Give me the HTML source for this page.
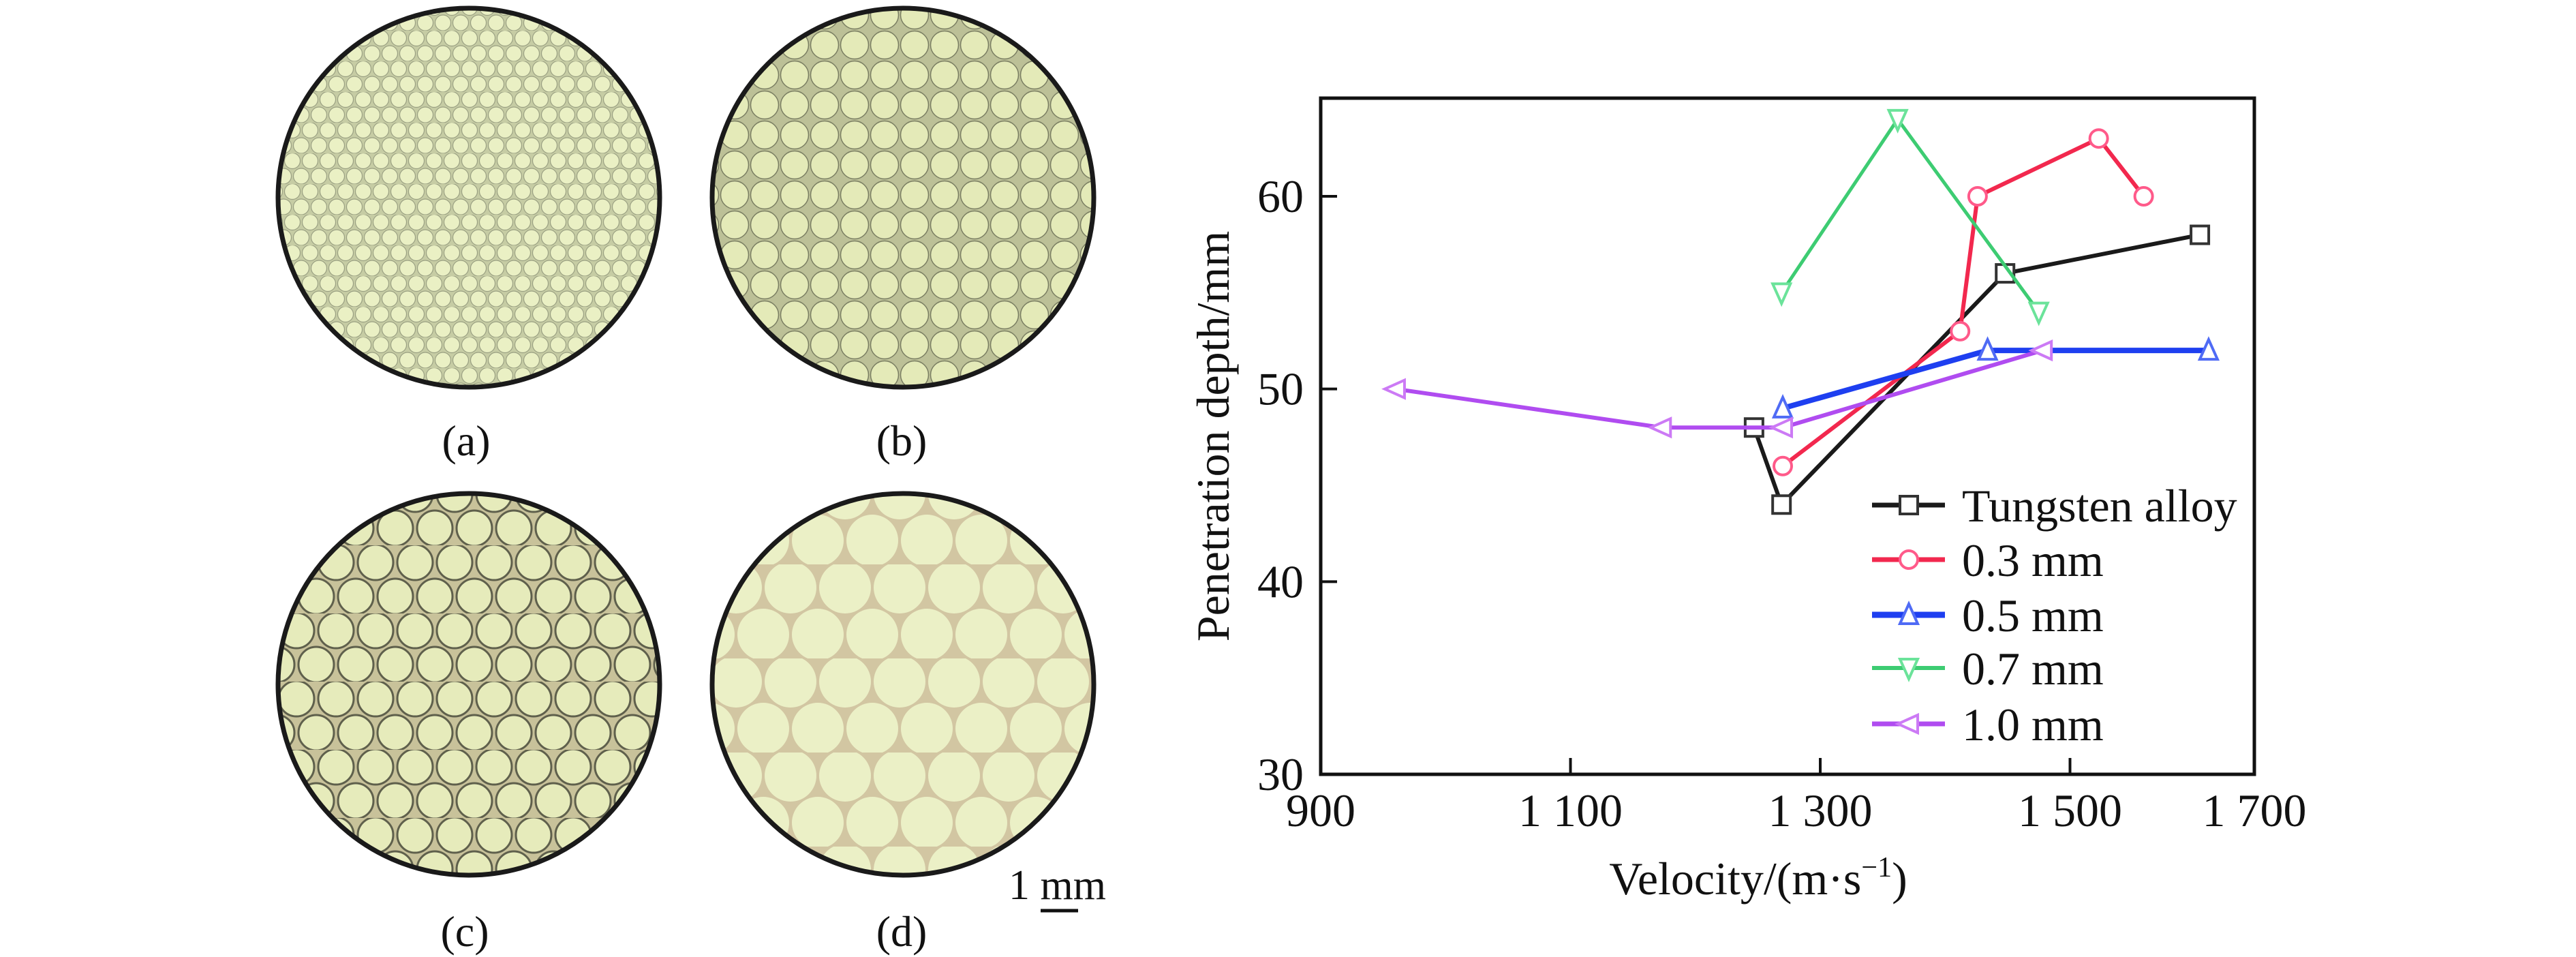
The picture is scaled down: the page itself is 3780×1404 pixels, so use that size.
<!DOCTYPE html>
<html><head><meta charset="utf-8"><style>
html,body{margin:0;padding:0;background:#fff;}
svg{display:block;}
text{font-family:"Liberation Serif",serif;fill:#111;}
</style></head><body>
<svg id="fig" width="3780" height="1404" viewBox="0 0 3780 1404" xmlns="http://www.w3.org/2000/svg">
<defs>
  <pattern id="pa" width="26" height="45" patternUnits="userSpaceOnUse">
    <rect width="26" height="45" fill="#c6cca4"/>
    <circle cx="13" cy="11" r="11.5" fill="#eaf0c4" stroke="#9aa082" stroke-width="1.2"/>
    <circle cx="0" cy="33.5" r="11.5" fill="#eaf0c4" stroke="#9aa082" stroke-width="1.2"/>
    <circle cx="26" cy="33.5" r="11.5" fill="#eaf0c4" stroke="#9aa082" stroke-width="1.2"/>
  </pattern>
  <pattern id="pb" width="44" height="44" patternUnits="userSpaceOnUse">
    <rect width="44" height="44" fill="#bcc097"/>
    <circle cx="22" cy="22" r="20.5" fill="#e4eab8" stroke="#7a7e62" stroke-width="1.5"/>
  </pattern>
  <pattern id="pc" width="58" height="100" patternUnits="userSpaceOnUse">
    <rect width="58" height="100" fill="#c8c29a"/>
    <circle cx="29" cy="25" r="26" fill="#e6ebbb" stroke="#5f604c" stroke-width="3"/>
    <circle cx="0" cy="75" r="26" fill="#e6ebbb" stroke="#5f604c" stroke-width="3"/>
    <circle cx="58" cy="75" r="26" fill="#e6ebbb" stroke="#5f604c" stroke-width="3"/>
  </pattern>
  <pattern id="pd" width="80" height="138" patternUnits="userSpaceOnUse">
    <rect width="80" height="138" fill="#d2c6a2"/>
    <circle cx="40" cy="34" r="38" fill="#ebf0c6"/>
    <circle cx="0" cy="103" r="38" fill="#ebf0c6"/>
    <circle cx="80" cy="103" r="38" fill="#ebf0c6"/>
  </pattern>
</defs>
<g>
  <ellipse cx="688" cy="290" rx="280" ry="278" fill="url(#pa)" stroke="#1a1a1a" stroke-width="7"/>
  <ellipse cx="1325" cy="290" rx="280" ry="278" fill="url(#pb)" stroke="#1a1a1a" stroke-width="7"/>
  <ellipse cx="688" cy="1004" rx="280" ry="280" fill="url(#pc)" stroke="#1a1a1a" stroke-width="7"/>
  <ellipse cx="1325" cy="1004" rx="280" ry="280" fill="url(#pd)" stroke="#1a1a1a" stroke-width="7"/>
  <text x="684" y="668" font-size="64" text-anchor="middle">(a)</text>
  <text x="1323" y="668" font-size="64" text-anchor="middle">(b)</text>
  <text x="682" y="1388" font-size="64" text-anchor="middle">(c)</text>
  <text x="1323" y="1388" font-size="64" text-anchor="middle">(d)</text>
  <text x="1480" y="1319" font-size="62">1 mm</text>
  <line x1="1527" y1="1336" x2="1582" y2="1336" stroke="#111" stroke-width="5"/>
</g>
<g id="chart"></g>
</svg>
<script>
const xTicks = [900, 1100, 1300, 1500, 1700];
const xTickLabels = ["900", "1 100", "1 300", "1 500", "1 700"];
const yTicks = [30, 40, 50, 60];
const yTickLabels = ["30", "40", "50", "60"];
const seriesNames = ["Tungsten alloy", "0.3 mm", "0.5 mm", "0.7 mm", "1.0 mm"];
const tungstenX = [1247, 1269, 1448, 1604];
const tungstenY = [48, 44, 56, 58];
const mm03X = [1270, 1412, 1426, 1523, 1559];
const mm03Y = [46, 53, 60, 63, 60];
const mm05X = [1270, 1434, 1611];
const mm05Y = [49, 52, 52];
const mm07X = [1269, 1362, 1475];
const mm07Y = [55, 64, 54];
const mm10X = [960, 1173, 1270, 1478];
const mm10Y = [50, 48, 48, 52];

const NS = "http://www.w3.org/2000/svg";
const L = 1938, R = 3308, T = 144, B = 1136;
const X0 = 900, XPX = 1.8325;
const Y0 = 30;
function xs(v){ return Math.min(R, L + (v - X0) * XPX); }
function ys(v){ return B - (v - Y0) * (B - 288) / 30; }
const chart = document.getElementById('chart');
function mk(tag, attrs, parent){
  const e = document.createElementNS(NS, tag);
  for (const k in attrs) e.setAttribute(k, attrs[k]);
  (parent || chart).appendChild(e);
  return e;
}
const frame = mk('rect', {x:L, y:T, width:R-L, height:B-T, fill:'none', stroke:'#111', 'stroke-width':5});



xTicks.forEach((v, i) => {
  const x = xs(v);
  if (x > L + 5 && x < R - 5) {
    const t = mk('line', {x1:x, x2:x, y1:B, y2:B-24, stroke:'#111', 'stroke-width':4});
    
    
  }
  const lab = mk('text', {x:x, y:1212, 'font-size':68, 'text-anchor':'middle'});
  lab.textContent = xTickLabels[i];
  
  
});
yTicks.forEach((v, i) => {
  const y = ys(v);
  if (y > T + 5 && y < B - 5) {
    const t = mk('line', {x1:L, x2:L+24, y1:y, y2:y, stroke:'#111', 'stroke-width':4});
    
    
  }
  const lab = mk('text', {x:1913, y:y + 23, 'font-size':68, 'text-anchor':'end'});
  lab.textContent = yTickLabels[i];
  
  
});
const yt = mk('text', {x:0, y:0, 'font-size':68, 'text-anchor':'middle', transform:'translate(1803 640) rotate(-90)'});
yt.textContent = 'Penetration depth/mm';


const xt = mk('text', {x:2580, y:1312, 'font-size':68, 'text-anchor':'middle'});
xt.innerHTML = 'Velocity/(m·s<tspan dy="-26" font-size="42">−1</tspan><tspan dy="26">)</tspan>';



const colors = ['#1a1a1a', '#f2284e', '#1e3ff0', '#3dcc72', '#b04cf0'];
const mcolors = ['#333333', '#ff5a8a', '#4f6bf5', '#6be39a', '#cc7af5'];
const widths = [6, 6, 8, 5, 6];
const shapes = ['square', 'circle', 'up', 'down', 'left'];
function marker(shape, cx, cy, col, parent){
  const s = 13; let e;
  if (shape === 'square') e = mk('rect', {x:cx-s, y:cy-s, width:2*s, height:2*s}, parent);
  else if (shape === 'circle') e = mk('circle', {cx:cx, cy:cy, r:s}, parent);
  else {
    let p;
    if (shape === 'up') p = [[cx,cy-s-3],[cx-s,cy+s],[cx+s,cy+s]];
    else if (shape === 'down') p = [[cx,cy+s+3],[cx-s,cy-s],[cx+s,cy-s]];
    else p = [[cx-s-3,cy],[cx+s,cy-s],[cx+s,cy+s]];
    e = mk('polygon', {points:p.map(q=>q.join(',')).join(' ')}, parent);
  }
  e.setAttribute('fill', '#fff');
  e.setAttribute('stroke', col);
  e.setAttribute('stroke-width', 4);
  return e;
}
const allX = [tungstenX, mm03X, mm05X, mm07X, mm10X];
const allY = [tungstenY, mm03Y, mm05Y, mm07Y, mm10Y];
const slugs = ['tungsten-alloy', '0-3mm', '0-5mm', '0-7mm', '1-0mm'];
allX.forEach((xsArr, si) => {
  const g = mk('g', {});
  
  
  const pts = xsArr.map((v, i) => xs(v) + ',' + ys(allY[si][i])).join(' ');
  const pl = mk('polyline', {points:pts, fill:'none', stroke:colors[si], 'stroke-width':widths[si], 'stroke-linejoin':'round'}, g);
  
  
  xsArr.forEach((v, i) => {
    const m = marker(shapes[si], xs(v), ys(allY[si][i]), mcolors[si], g);
    
    
  });
});
const legendY = [741, 821, 902, 980, 1062];
const lg = mk('g', {});


seriesNames.forEach((n, i) => {
  const y = legendY[i];
  const ln = mk('line', {x1:2747, x2:2854, y1:y, y2:y, stroke:colors[i], 'stroke-width':widths[i]+1}, lg);
  
  
  const m = marker(shapes[i], 2801, y, mcolors[i], lg);
  
  
  const t = mk('text', {x:2879, y:y + 24, 'font-size':68}, lg);
  t.textContent = n;
  
  
});
</script>
</body></html>
